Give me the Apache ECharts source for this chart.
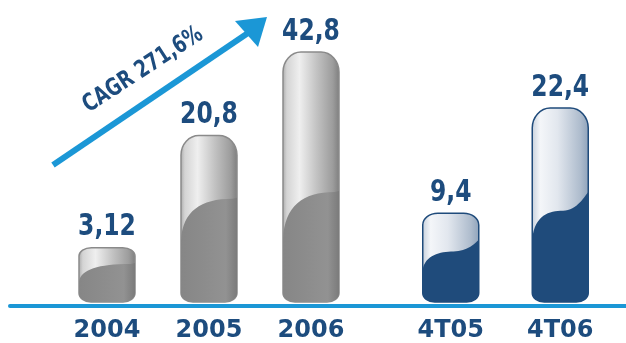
<!DOCTYPE html>
<html>
<head>
<meta charset="utf-8">
<script src="https://cdn.jsdelivr.net/npm/echarts@6/dist/echarts.min.js"></script>
<style>
html,body{margin:0;padding:0;background:#fff;}
#chart{width:626px;height:343px;}
</style>
</head>
<body>
<div id="chart"></div>
<script>
// ---- data ----
const yearCategories = ['2004', '2005', '2006'];
const quarterCategories = ['4T05', '4T06'];
const yearValues = [3.12, 20.8, 42.8];
const quarterValues = [9.4, 22.4];
// heights of the cylinders as drawn in the picture (the artwork is not to scale)
const yearDrawnHeights = [9.3, 28.5, 42.8];
const quarterDrawnHeights = [15.2, 33.2];
const cagrText = 'CAGR 271,6%';

const NAVY = '#1d4c7e';
const BLUE = '#1b97d6';
const condFont = '"DejaVu Sans Condensed", "Liberation Sans Narrow", "DejaVu Sans", sans-serif';

function fmt(v) { return String(v).replace('.', ','); }

function roundRect(x0, x1, yt, yb, rxT, ryT, rxB, ryB) {
  const k = 0.5523;
  return 'M' + x0 + ' ' + (yt + ryT) +
    ' C' + x0 + ' ' + (yt + ryT - k * ryT) + ' ' + (x0 + rxT - k * rxT) + ' ' + yt + ' ' + (x0 + rxT) + ' ' + yt +
    ' L' + (x1 - rxT) + ' ' + yt +
    ' C' + (x1 - rxT + k * rxT) + ' ' + yt + ' ' + x1 + ' ' + (yt + ryT - k * ryT) + ' ' + x1 + ' ' + (yt + ryT) +
    ' L' + x1 + ' ' + (yb - ryB) +
    ' C' + x1 + ' ' + (yb - ryB + k * ryB) + ' ' + (x1 - rxB + k * rxB) + ' ' + yb + ' ' + (x1 - rxB) + ' ' + yb +
    ' L' + (x0 + rxB) + ' ' + yb +
    ' C' + (x0 + rxB - k * rxB) + ' ' + yb + ' ' + x0 + ' ' + (yb - ryB + k * ryB) + ' ' + x0 + ' ' + (yb - ryB) + ' Z';
}

function bottomPart(x0, x1, yb, yr, ryB, rxB) {
  const k = 0.5523;
  return ' L' + x1 + ' ' + (yb - ryB) +
    ' C' + x1 + ' ' + (yb - ryB + k * ryB) + ' ' + (x1 - rxB + k * rxB) + ' ' + yb + ' ' + (x1 - rxB) + ' ' + yb +
    ' L' + (x0 + rxB) + ' ' + yb +
    ' C' + (x0 + rxB - k * rxB) + ' ' + yb + ' ' + x0 + ' ' + (yb - ryB + k * ryB) + ' ' + x0 + ' ' + (yb - ryB) + ' Z';
}

function lowerPathS(x0, x1, yb, yl, yr, ryB, rxB) {
  const w = x1 - x0;
  const ym = yr + (yl - yr) * 0.4;
  return 'M' + x0 + ' ' + yl +
    ' C' + (x0 + 0.05 * w) + ' ' + (ym + 4) + ' ' + (x0 + 0.3 * w) + ' ' + ym + ' ' + (x0 + 0.55 * w) + ' ' + ym +
    ' C' + (x0 + 0.8 * w) + ' ' + ym + ' ' + (x1 - 0.05 * w) + ' ' + (yr + 3) + ' ' + x1 + ' ' + yr +
    bottomPart(x0, x1, yb, yr, ryB, rxB);
}

function lowerPathArc(x0, x1, yb, yl, yr, ryB, rxB) {
  const w = x1 - x0;
  return 'M' + x0 + ' ' + yl +
    ' C' + (x0 + 0.03 * w) + ' ' + (yr + (yl - yr) * 0.3) + ' ' + (x0 + 0.35 * w) + ' ' + yr + ' ' + (x1 - 0.08 * w) + ' ' + yr +
    ' L' + x1 + ' ' + (yr - 1) +
    bottomPart(x0, x1, yb, yr, ryB, rxB);
}

function makeRender(theme) {
  return function (params, api) {
    const idx = api.value(0);
    const hv = api.value(1);
    const label = fmt(api.value(2));
    const top = api.coord([idx, hv]);
    const base = api.coord([idx, 0]);
    const bw = 56;
    const cx = top[0];
    const x0 = cx - bw / 2, x1 = cx + bw / 2;
    const yt = top[1];
    const yb = base[1];
    const h = yb - yt;
    const ryT = Math.min(20, 0.1 * h + 3);
    const rxT = Math.min(18, 0.08 * h + 8);
    const rxB = 12, ryB = 9;
    const yl = yb - Math.min(0.37 * h, 63);
    const yr = yb - Math.min(0.7 * h, 0.35 * h + 45, 110);
    let bodyFill, lowFill, stroke, lowPath;
    if (theme === 'gray') {
      bodyFill = new echarts.graphic.LinearGradient(0, 0, 1, 0, [
        { offset: 0, color: '#a8a8a8' },
        { offset: 0.08, color: '#d4d4d4' },
        { offset: 0.3, color: '#efefef' },
        { offset: 0.6, color: '#c2c2c2' },
        { offset: 0.88, color: '#9c9c9c' },
        { offset: 1, color: '#7d7d7d' }
      ]);
      lowFill = new echarts.graphic.LinearGradient(0, 0, 1, 0, [
        { offset: 0, color: '#868686' },
        { offset: 0.8, color: '#929292' },
        { offset: 1, color: '#7b7b7b' }
      ]);
      stroke = '#8a8a8a';
      lowPath = lowerPathArc(x0, x1, yb, yl, yr, ryB, rxB);
    } else {
      bodyFill = new echarts.graphic.LinearGradient(0, 0, 1, 0, [
        { offset: 0, color: '#c5cfdb' },
        { offset: 0.15, color: '#f4f6f9' },
        { offset: 0.45, color: '#e2e7ee' },
        { offset: 0.85, color: '#aebccd' },
        { offset: 1, color: '#8ea2ba' }
      ]);
      lowFill = '#1f4b7b';
      stroke = '#1f4b7b';
      lowPath = lowerPathS(x0, x1, yb, yl, yr, ryB, rxB);
    }
    return {
      type: 'group',
      children: [
        {
          type: 'path',
          shape: { pathData: roundRect(x0, x1, yt, yb, rxT, ryT, rxB, ryB) },
          style: { fill: bodyFill, stroke: stroke, lineWidth: 1.5 }
        },
        {
          type: 'path',
          shape: { pathData: lowPath },
          style: { fill: lowFill }
        },
        {
          type: 'text',
          x: cx,
          y: yt - 5,
          scaleX: 0.84,
          style: {
            text: label,
            x: 0,
            y: 0,
            align: 'center',
            verticalAlign: 'bottom',
            fill: NAVY,
            font: 'bold 31px ' + condFont
          }
        }
      ]
    };
  };
}

const yearData = yearCategories.map((c, i) => [i, yearDrawnHeights[i], yearValues[i]]);
const quarterData = quarterCategories.map((c, i) => [i, quarterDrawnHeights[i], quarterValues[i]]);

const catLabel = { color: NAVY, fontSize: 24, fontWeight: 'bold', fontFamily: '"DejaVu Sans", sans-serif', margin: 17 };

const chart = echarts.init(document.getElementById('chart'), null, { renderer: 'canvas' });
chart.setOption({
  animation: false,
  backgroundColor: '#ffffff',
  grid: [
    { left: 56, width: 306, top: 10, height: 296 },
    { left: 396, width: 219, top: 10, height: 296 },
    { left: 10, right: 0, top: 10, height: 296 }
  ],
  xAxis: [
    { type: 'category', gridIndex: 0, data: yearCategories, axisLine: { show: false }, axisTick: { show: false }, axisLabel: catLabel },
    { type: 'category', gridIndex: 1, data: quarterCategories, axisLine: { show: false }, axisTick: { show: false }, axisLabel: catLabel },
    { type: 'value', gridIndex: 2, min: 0, max: 1, z: 10, axisLine: { show: true, lineStyle: { color: BLUE, width: 4, cap: 'round' } }, axisTick: { show: false }, axisLabel: { show: false }, splitLine: { show: false } }
  ],
  yAxis: [
    { type: 'value', gridIndex: 0, min: 0, max: 50, show: false },
    { type: 'value', gridIndex: 1, min: 0, max: 50, show: false },
    { type: 'value', gridIndex: 2, min: 0, max: 50, show: false }
  ],
  series: [
    { type: 'custom', xAxisIndex: 0, yAxisIndex: 0, data: yearData, encode: { x: 0, y: 1 }, renderItem: makeRender('gray') },
    { type: 'custom', xAxisIndex: 1, yAxisIndex: 1, data: quarterData, encode: { x: 0, y: 1 }, renderItem: makeRender('blue') }
  ],
  graphic: [
    { type: 'line', shape: { x1: 53, y1: 165, x2: 248, y2: 33 }, style: { stroke: BLUE, lineWidth: 6 } },
    { type: 'polygon', shape: { points: [[235, 21], [267, 17], [258, 47]] }, style: { fill: BLUE } },
    {
      type: 'text', x: 143, y: 70, rotation: 33 * Math.PI / 180, scaleX: 0.84,
      style: { text: cagrText, align: 'center', verticalAlign: 'middle', fill: NAVY, font: 'bold 24px ' + condFont }
    }
  ]
});
</script>
</body>
</html>
